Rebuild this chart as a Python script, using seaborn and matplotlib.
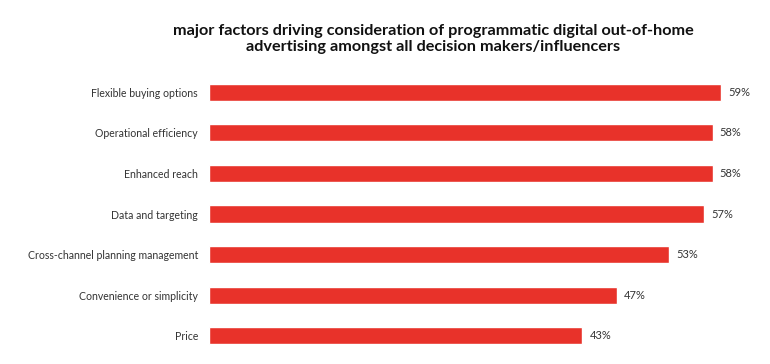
import matplotlib
matplotlib.use("Agg")
import matplotlib.pyplot as plt
import seaborn as sns
import pandas as pd

categories = ["Flexible buying options", "Operational efficiency", "Enhanced reach",
              "Data and targeting", "Cross-channel planning management",
              "Convenience or simplicity", "Price"]
values = [59, 58, 58, 57, 53, 47, 43]
title = "major factors driving consideration of programmatic digital out-of-home\nadvertising amongst all decision makers/influencers"

sns.set_theme(style="white")
plt.rcParams['font.family'] = ['Lato', 'DejaVu Sans']

df = pd.DataFrame({"factor": categories, "pct": values})

fig = plt.figure(figsize=(7.7, 3.64), dpi=100)
ax = fig.add_axes([209/770, 8/364, 1 - 209/770, 284/364])
sns.barplot(data=df, x="pct", y="factor", color="#E8322A", saturation=1,
            width=0.42, ax=ax, orient="h")
ax.set_xlim(0, 64.6)
ax.set_ylim(6.5, -0.5)
for i, v in enumerate(values):
    ax.text(v + 0.8, i, f"{v}%", va="center", ha="left", fontsize=8, color="#333333")
ax.set_xlabel("")
ax.set_ylabel("")
ax.set_xticks([])
ax.tick_params(axis="y", length=0, pad=8, labelsize=7.6, labelcolor="#333333")
for s in ax.spines.values():
    s.set_visible(False)
fig.text(433/770, 1 - 39/364, title, ha="center", va="center", fontsize=11.7,
         fontweight="bold", color="#111111", linespacing=1.25)
fig.savefig("out.png", dpi=100)
